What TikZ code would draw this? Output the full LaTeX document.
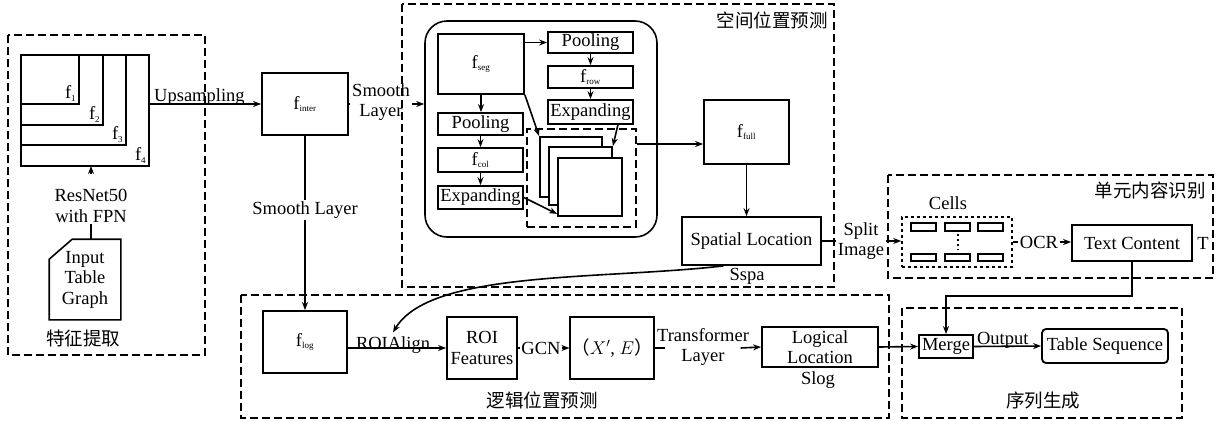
\documentclass[tikz,border=0pt]{standalone}
\usepackage{fix-cm}
\usepackage{fontspec}
\setmainfont{Liberation Serif}
\newfontfamily\cjk{Noto Sans CJK SC}
\usetikzlibrary{positioning}
\usetikzlibrary{calc}
\usetikzlibrary{arrows.meta}

\tikzset{
  box/.style={draw, line width=1.8pt, inner sep=1pt, align=center},
  dbox/.style={draw, dash pattern=on 8pt off 4pt, line width=1.5pt},
  lbl/.style={inner sep=1pt, align=center},
}
\newcommand{\fsub}[1]{f\textsubscript{\fontsize{9}{9}\selectfont #1}}

\begin{document}
\begin{tikzpicture}[x=1pt, y=-1pt, line width=1.6pt,
  font=\fontsize{18.5}{20.5}\selectfont,
  >={Stealth[length=8pt,width=6pt]}]
\useasboundingbox (0,0) rectangle (1232,426);

%---------------------------------------
% Feature extraction
%---------------------------------------
\node[box, outer sep=0pt, minimum width=128pt, minimum height=111pt] (fpn) at (85,110.5) {};
\draw[line width=1.8pt] (fpn.north west) rectangle (79,104);
\draw[line width=1.8pt] (fpn.north west) rectangle (103,125);
\draw[line width=1.8pt] (fpn.north west) rectangle (126,145);
\node[anchor=south east, inner sep=2pt] (f1) at (79,104) {\fsub{1}};
\node[anchor=south east, inner sep=2pt] (f2) at (103,125) {\fsub{2}};
\node[anchor=south east, inner sep=2pt] (f3) at (126,145) {\fsub{3}};
\node[anchor=south east, inner sep=2pt] (f4) at (149,166) {\fsub{4}};

\node[lbl] (resnet) at (91,206) {ResNet50\\with FPN};
\draw[->] ([yshift=14pt]resnet.north) -- (resnet.north |- fpn.south);

% input document
\node[lbl, minimum width=70pt, minimum height=79pt] (input) at (85,279.5) {Input\\Table\\Graph};
\draw (input.south west) -- ($(input.north west)+(0,20)$)
  -- ($(input.north west)+(23,0)$) -- (input.north east)
  -- (input.south east) -- cycle;
\draw (resnet.south) -- (resnet.south |- input.north);

\node (featlbl) at (83,338) {\cjk 特征提取};
\draw[dbox] (8,35) rectangle (205,355);

%---------------------------------------
% Intermediate feature
%---------------------------------------
\node[box, minimum width=86pt, minimum height=62pt] (finter) at (305,104) {\fsub{inter}};
\draw[->] (fpn.east |- finter.west) -- node[pos=.45, anchor=base, yshift=3pt, inner sep=0pt] (upsam) {Upsampling} (finter.west);

\node[lbl] (smoothr) at (381,102) {Smooth\\Layer};
\node[lbl, fill=white] (smoothd) at (305,210) {Smooth Layer};

%---------------------------------------
% Spatial location prediction
%---------------------------------------
\node[draw, rounded corners=22pt, minimum width=232pt, minimum height=216pt] (spbox) at (541,129) {};

\node[box, minimum width=86pt, minimum height=60pt] (fseg) at (481,64) {\fsub{seg}};
\node[box, minimum width=85pt, minimum height=21pt] (poolT) at (590.5,42.5) {Pooling};
\node[box, minimum width=85pt, minimum height=22pt] (frow) at (590.5,77) {\fsub{row}};
\node[box, minimum width=85pt, minimum height=24pt] (expT) at (590.5,112) {Expanding};
\node[box, minimum width=85pt, minimum height=22pt] (poolL) at (480.5,124) {Pooling};
\node[box, minimum width=85pt, minimum height=24pt] (fcol) at (480.5,160) {\fsub{col}};
\node[box, minimum width=85pt, minimum height=23pt] (expL) at (480.5,197.5) {Expanding};

% stacked maps
\node[dbox, minimum width=109pt, minimum height=98pt] (stack) at (581.5,178) {};
\node[box, fill=white, minimum width=62pt, minimum height=60pt] (sq1) at (571,167) {};
\node[box, fill=white, minimum width=63pt, minimum height=58pt] (sq2) at (580.5,176) {};
\node[box, fill=white, minimum width=64pt, minimum height=58pt] (sq3) at (590,187) {};

\draw (finter.east) -- (finter.east -| smoothr.west);
\draw[->] (finter.east -| smoothr.east) -- (finter.east -| spbox.west);

\draw[->] (poolT.west -| fseg.east) -- (poolT.west);
\draw[->] (fseg.south) -- (fseg.south |- poolL.north);
\draw[->] (poolL) -- (fcol);
\draw[->] (fcol) -- (expL);
\draw[->] (poolT) -- (frow);
\draw[->] (frow) -- (expT);
\draw[->] (fseg.south east) -- (sq1.north west);
\draw[->] ([xshift=-16pt]expT.south east) -- (sq2.north east);
\draw[->] (expL.east) -- ([yshift=3pt]sq3.south west);

\node[box, minimum width=85pt, minimum height=64pt] (ffull) at (746.5,132) {\fsub{full}};
\node[box, minimum width=139pt, minimum height=48pt] (spatial) at (751.5,241) {Spatial Location};
\node (sspa) at (747,276) {Sspa};
\draw[->] ([yshift=34pt]stack.east) -- ([yshift=34pt]stack.east -| ffull.west);
\draw[->] (ffull.south) -- (ffull.south |- spatial.north);

\draw[dbox] (402,4) rectangle (834,287);
\node (spalbl) at (772,20) {\cjk 空间位置预测};

%---------------------------------------
% Cell content recognition
%---------------------------------------
\node[draw, dash pattern=on 3pt off 3pt, minimum width=110pt, minimum height=50pt] (cells) at (957,242) {};
\node (cellslbl) at (948,203) {Cells};
\foreach \cx in {923.5,957.5,990.5} {
  \draw (\cx-12.5,223) rectangle (\cx+12.5,231);
  \draw (\cx-12.5,254) rectangle (\cx+12.5,261);
}
\draw[dash pattern=on 2pt off 3pt] (958,234) -- (958,250);

\node[lbl] (split) at (861,241) {Split\\Image};
\draw (spatial.east) -- (spatial.east -| split.west);
\draw[->] (spatial.east -| split.east) -- (spatial.east -| cells.west);

\node[box, minimum width=120pt, minimum height=36pt] (tc) at (1132,243) {Text Content};
\node[lbl] (ocr) at (1039,242) {OCR};
\draw (cells.east) -- (ocr.west);
\draw[->] (ocr.east) -- (ocr.east -| tc.west);
\node (tlbl) at (1203,243) {T};

\draw[dbox] (888,175) rectangle (1213,278);
\node (conlbl) at (1150,190) {\cjk 单元内容识别};

%---------------------------------------
% Logical location prediction
%---------------------------------------
\node[box, minimum width=84pt, minimum height=62pt] (flog) at (305,342) {\fsub{log}};
\draw (finter.south) -- (smoothd.north);
\draw[->] (smoothd.south) -- (flog.north);

\node[box, minimum width=70pt, minimum height=62pt] (roif) at (482,348) {ROI\\Features};
\node[box, minimum width=72pt, minimum height=62pt] (xe) at (612,348) {{\cjk （}$X'$, $E${\cjk ）}};
\node[box, minimum width=116pt, minimum height=40pt] (logical) at (820,347) {Logical\\Location};
\node (slog) at (818,380) {Slog};

\draw[->] (flog.east |- roif.west) -- (roif.west);
\node (roialign) at (393,345) {ROIAlign};
\draw[->] ([xshift=-28pt]spatial.south) .. controls (600,280) and (430,270) .. (roialign.north);

\node[lbl] (gcn) at (541,348) {GCN};
\draw (roif.east) -- (gcn.west);
\draw[->] (gcn.east) -- (xe.west);

\node[lbl] (trans) at (703,347) {Transformer\\Layer};
\draw (xe.east) -- ([xshift=10pt]trans.west |- xe.east);
\draw[->] ([xshift=-10pt]trans.east |- xe.east) -- (logical.west);

\draw[dbox] (241,295) rectangle (889,418);
\node (loglbl) at (542,400) {\cjk 逻辑位置预测};

%---------------------------------------
% Sequence generation
%---------------------------------------
\node[box, inner sep=0pt, minimum width=54pt, minimum height=23pt] (merge) at (946,346.5) {Merge};
\node[box, rounded corners=4pt, minimum width=126pt, minimum height=34pt] (tseq) at (1105,346) {Table Sequence};
\draw[->] (logical.east) -- (merge.west);
\draw[->] (merge.east) -- node[pos=.43, anchor=base, yshift=2pt, inner sep=0pt] (output) {Output} (tseq.west);
\draw[->] (tc.south) -- ++(0,34) -| (merge.north);

\draw[dbox] (902,308) rectangle (1182,418);
\node (seqlbl) at (1043,400) {\cjk 序列生成};

\end{tikzpicture}
\end{document}
